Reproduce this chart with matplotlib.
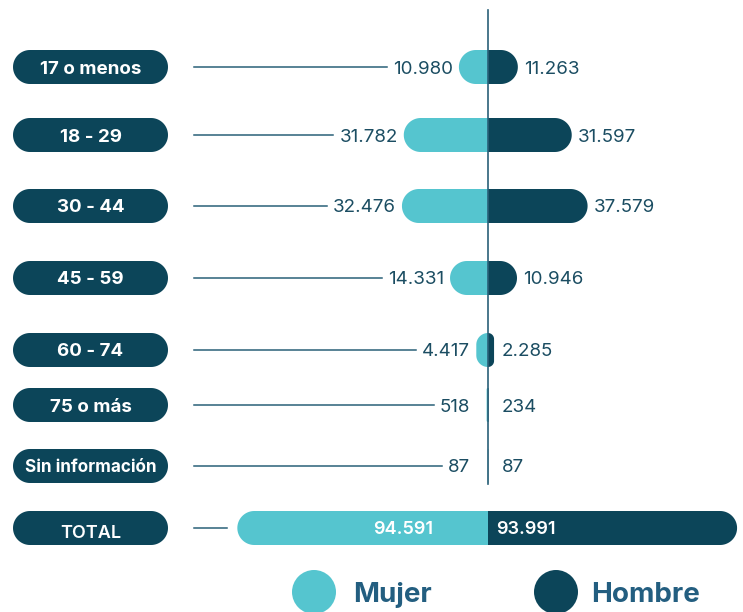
import numpy as np
import matplotlib
matplotlib.use("Agg")
import matplotlib.pyplot as plt
from matplotlib.patches import PathPatch, Rectangle, Circle
from matplotlib.path import Path

# ---------------- data ----------------
categories = ["17 o menos", "18 - 29", "30 - 44", "45 - 59", "60 - 74", "75 o más", "Sin información"]
mujer = [10980, 31782, 32476, 14331, 4417, 518, 87]
hombre = [11263, 31597, 37579, 10946, 2285, 234, 87]
total_label = "TOTAL"
total_mujer = 94591
total_hombre = 93991
legend_labels = ["Mujer", "Hombre"]

# ---------------- style ----------------
LIGHT = "#55C5CF"
DARK = "#0C4559"
TEXT = "#1B4D62"
LEGEND_TEXT = "#235E80"
LINE = "#2A6078"
plt.rcParams['font.family'] = ['Inter', 'DejaVu Sans']

W, H = 743, 612
fig = plt.figure(figsize=(W / 100, H / 100), dpi=100)
S = 0.00265      # pixels per person
CX = 488         # pixel position of the centre line
BH = 34          # bar height in px
row_y = [67, 135, 206, 278, 350, 405, 466]
total_y = 528

lay = fig.add_axes([0, 0, 1, 1])
lay.set_xlim(0, W)
lay.set_ylim(H, 0)
lay.axis('off')

ax = fig.add_axes([0, 0, 1, 1])
ax.set_xlim(-CX / S, (W - CX) / S)
ax.set_ylim(H, 0)
ax.axis('off')


def fmt(v):
    return f"{v:,}".replace(",", ".")


def rounded_path(x0, x1, yc, h, sx):
    """Rounded rectangle with circular corners; sx = px per x unit."""
    w_px = (x1 - x0) * sx
    r = min(h / 2, w_px / 2)
    rx = r / sx
    t = np.linspace(0, np.pi / 2, 20)
    verts = []
    # bottom-right corner -> top-right
    cxr, cxl = x1 - rx, x0 + rx
    ylo, yhi = yc - h / 2 + r, yc + h / 2 - r
    for a in np.linspace(-np.pi / 2, 0, 20):
        verts.append((cxr + rx * np.cos(a), ylo + r * np.sin(a)))
    for a in np.linspace(0, np.pi / 2, 20):
        verts.append((cxr + rx * np.cos(a), yhi + r * np.sin(a)))
    for a in np.linspace(np.pi / 2, np.pi, 20):
        verts.append((cxl + rx * np.cos(a), yhi + r * np.sin(a)))
    for a in np.linspace(np.pi, 1.5 * np.pi, 20):
        verts.append((cxl + rx * np.cos(a), ylo + r * np.sin(a)))
    verts.append(verts[0])
    return Path(np.array(verts), closed=True)


def half_bar(value, y, side, color):
    p = PathPatch(rounded_path(-value, value, y, BH, S), fc=color, ec='none', zorder=2)
    ax.add_patch(p)
    if side < 0:
        clip = Rectangle((-1e7, 0), 1e7, H, transform=ax.transData)
    else:
        clip = Rectangle((0, 0), 1e7, H, transform=ax.transData)
    p.set_clip_path(clip)


def pill(y, text, size=13.5, weight='bold', dy=0):
    lay.add_patch(PathPatch(rounded_path(13, 168, y, BH, 1.0), fc=DARK, ec='none', zorder=2))
    lay.text(90.5, y + dy, text, color='white', fontsize=size, fontweight=weight,
             ha='center', va='center_baseline', zorder=3)


left_texts = []
for cat, m, h, y in zip(categories, mujer, hombre, row_y):
    half_bar(m, y, -1, LIGHT)
    half_bar(h, y, 1, DARK)
    pill(y, cat, size=12.3 if len(cat) > 12 else 13.5)
    lt = ax.annotate(fmt(m), xy=(-max(m, 12 / S), y), xytext=(-6, 0),
                     textcoords='offset pixels', ha='right', va='center_baseline',
                     fontsize=13.5, color=TEXT, zorder=3)
    ax.annotate(fmt(h), xy=(max(h, 8 / S), y), xytext=(6, 0),
                textcoords='offset pixels', ha='left', va='center_baseline',
                fontsize=13.5, color=TEXT, zorder=3)
    left_texts.append((lt, y))

# centre line
ax.plot([0, 0], [10, 484], color=LINE, lw=1.2, zorder=4)

# total row
half_bar(total_mujer, total_y, -1, LIGHT)
half_bar(total_hombre, total_y, 1, DARK)
pill(total_y, total_label, size=13, weight='semibold', dy=3)
ax.annotate(fmt(total_mujer), xy=(0, total_y), xytext=(-55, 0), textcoords='offset pixels',
            ha='right', va='center_baseline', fontsize=13, color='white',
            fontweight='semibold', zorder=3)
ax.annotate(fmt(total_hombre), xy=(0, total_y), xytext=(8, 0), textcoords='offset pixels',
            ha='left', va='center_baseline', fontsize=13, color='white',
            fontweight='semibold', zorder=3)

# legend
lay.add_patch(Circle((314, 592), 22, fc=LIGHT, ec='none'))
lay.text(353, 602, legend_labels[0], fontsize=20, fontweight='bold', color=LEGEND_TEXT,
         ha='left', va='baseline')
lay.add_patch(Circle((556, 592), 22, fc=DARK, ec='none'))
lay.text(591, 602, legend_labels[1], fontsize=20, fontweight='bold', color=LEGEND_TEXT,
         ha='left', va='baseline')

# leader lines (end just before the left value labels)
fig.canvas.draw()
renderer = fig.canvas.get_renderer()
for t, y in left_texts:
    bb = t.get_window_extent(renderer)
    lay.plot([194, bb.x0 - 6], [y, y], color=LINE, lw=1.1, zorder=1)
lay.plot([194, CX - total_mujer * S - 10], [total_y, total_y], color=LINE, lw=1.1, zorder=1)

fig.savefig("out.png", dpi=100, facecolor='white')
